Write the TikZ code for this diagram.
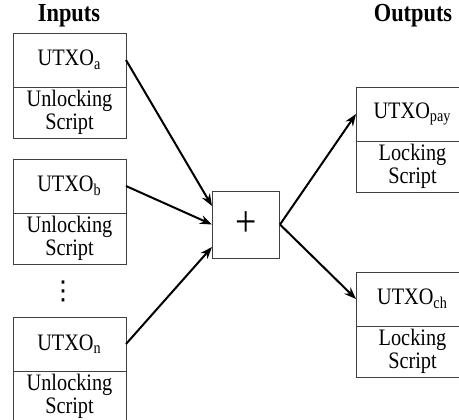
\documentclass[tikz,border=0pt]{standalone}
\usepackage{fontspec}
\setmainfont[FakeStretch=0.86]{Liberation Serif}
\newfontfamily\symfont{DejaVu Sans}
\usetikzlibrary{arrows.meta,positioning}

\tikzset{
	utxo/.style	= {draw=black!75, line width=0.5pt, minimum width=56.5pt, minimum height=27pt,
			   inner sep=0pt, outer sep=0pt, font=\fontsize{11.8}{11.8}\selectfont},
	script/.style	= {utxo, minimum height=25.5pt, align=center},
	title/.style	= {font=\fontsize{13}{15}\selectfont\bfseries},
}

\begin{document}
\begin{tikzpicture}[>={Stealth[length=6pt,width=4.5pt]}, node distance = 10.5pt]
	\useasboundingbox (0,0) rectangle (229.5pt,-209.5pt);

	\node	[title]	(tin)	at (34.5pt,-8pt)	{Inputs};
	\node	[title]	(tout)	at (206.5pt,-8pt)	{Outputs};

	% inputs
	\node	(ina)	[utxo, anchor=north] at (34.75pt,-16.5pt)	{UTXO\textsubscript{a}};
	\node	(sa)	[script, below=0pt of ina]		{Unlocking\\Script};
	\node	(inb)	[utxo, below=of sa]			{UTXO\textsubscript{b}};
	\node	(sb)	[script, below=0pt of inb]		{Unlocking\\Script};
	\node	(dots)	[inner sep=0pt, font=\symfont\fontsize{13}{13}\selectfont]
			at (31.5pt,-145.5pt)				{⋮};
	\node	(inn)	[utxo, below=26.5pt of sb]		{UTXO\textsubscript{n}};
	\node	(sn)	[script, below=0pt of inn]		{Unlocking\\Script};

	% sum
	\node	(plus)	[draw=black!75, line width=0.5pt, minimum size=33.5pt, inner sep=0pt,
			 font=\fontsize{22}{24}\selectfont] at (123pt,-112.25pt) {+};
	\coordinate (pa) at ([yshift=9.25pt]plus.west);
	\coordinate (pn) at ([yshift=-11.25pt]plus.west);

	% outputs
	\node	(pay)	[utxo, anchor=north] at (206.25pt,-43.5pt)	{UTXO\textsubscript{pay}};
	\node	(lpay)	[script, below=0pt of pay]		{Locking\\Script};
	\node	(ch)	[utxo, below=40pt of lpay]		{UTXO\textsubscript{ch}};
	\node	(lch)	[script, below=0pt of ch]		{Locking\\Script};

	\path [->, line width=1pt]
	(ina.east)	edge	(pa)
	(inb.east)	edge	(plus.west)
	(inn.east)	edge	(pn)
	(plus.east)	edge	(pay.west)
			edge	(ch.west)
	;

\end{tikzpicture}
\end{document}
